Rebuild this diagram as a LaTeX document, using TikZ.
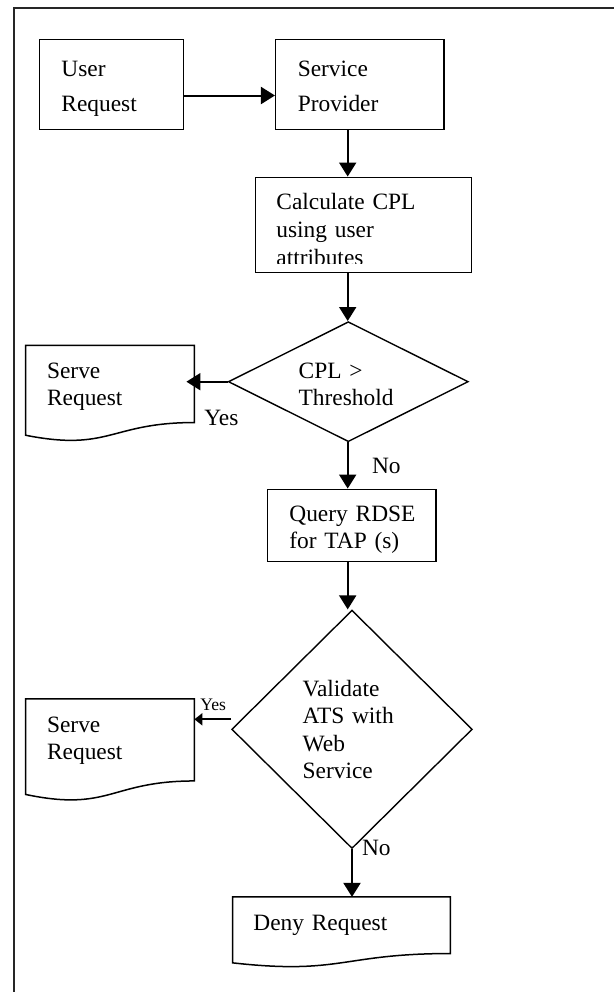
\documentclass[tikz,border=0pt]{standalone}
\usepackage{fontspec}
\setmainfont{Liberation Serif}
\usetikzlibrary{arrows.meta,shapes.geometric,calc}

% outline of a flowchart "document" symbol laid over a named rectangle node
\newcommand\docoutline[1]{%
  \draw[line width=0.75pt] (#1.north west) -- (#1.north east)
    -- ($(#1.north east)!0.802!(#1.south east)$)
    .. controls ($(#1.north)!0.802!(#1.south)$) and ($(#1.north)!1.107!(#1.south)$)
    .. ($(#1.north west)!0.934!(#1.south west)$) -- cycle;}

\begin{document}
\begin{tikzpicture}[x=0.5pt,y=-0.5pt,
  flowbox/.style={draw, rectangle, line width=0.75pt, inner sep=0pt},
  docarea/.style={rectangle, inner sep=0pt},
  decision/.style={draw, diamond, line width=0.7pt, inner sep=0pt},
  flowline/.style={line width=1pt, -{Triangle[length=7pt,width=8.5pt]}},
  txt/.style={anchor=base west, inner sep=0pt, align=left, text width=110pt,
    font=\fontsize{11.7pt}{13.6pt}\selectfont},
  widetxt/.style={txt, font=\fontsize{11.7pt}{17.3pt}\selectfont},
  calctxt/.style={txt, font=\fontsize{11.7pt}{14pt}\selectfont},
  smalltxt/.style={txt, font=\fontsize{8.8pt}{10pt}\selectfont}]
\useasboundingbox (0,0) rectangle (614,992);

% page frame
\draw[line width=0.9pt, draw=black!85] (14,992) |- (614,8);

% shapes
\node[flowbox, minimum width=72.2pt, minimum height=45pt] (user) at (111.5,84.3) {};
\node[flowbox, minimum width=84.15pt, minimum height=45pt] (provider) at (359.85,84.3) {};
\node[flowbox, minimum width=108pt, minimum height=47.7pt] (calc) at (363.7,225) {};
\node[decision, minimum width=120pt, minimum height=60pt] (thr) at (348.3,381.7) {};
\node[docarea, minimum width=84pt, minimum height=47.75pt] (serve1) at (110,393.45) {};
\docoutline{serve1}
\node[flowbox, minimum width=84.15pt, minimum height=36.2pt] (query) at (351.85,525.5) {};
\node[decision, minimum width=120.3pt, minimum height=119.2pt] (check) at (352,729.3) {};
\node[docarea, minimum width=84pt, minimum height=50.75pt] (serve2) at (110,750.05) {};
\docoutline{serve2}
\node[docarea, minimum width=108.5pt, minimum height=34.9pt] (deny) at (341.5,932.2) {};
\docoutline{deny}

% texts
\node[widetxt] (t-user) at (61,76.6) {User\\Request};
\node[widetxt] (t-provider) at (297.4,76.6) {Service\\Provider};
\coordinate (cut) at (0,263.3);
\begin{scope}
  % the last line runs past the lower edge of its box and is cut off there
  \clip (calc.north west) rectangle (calc.east |- cut);
  \node[calctxt] (t-calc) at (276,209.8) {Calculate CPL\\using user\\attributes};
\end{scope}
\node[txt] (t-thr) at (298.3,378.3) {CPL >\\Threshold};
\node[txt] (t-serve1) at (46.7,378.3) {Serve\\Request};
\node[txt] (yes1) at (204,425) {Yes};
\node[txt] (no1) at (371.7,473.3) {No};
\node[txt] (t-query) at (289,521.7) {Query RDSE\\for TAP (s)};
\node[txt] (t-check) at (302.3,696.7) {Validate\\ATS with\\Web\\Service};
\node[txt] (t-serve2) at (46.7,732.7) {Serve\\Request};
\node[smalltxt] (yes2) at (200,710.7) {Yes};
\node[txt] (no2) at (361.7,855) {No};
\node[txt] (t-deny) at (253,930.7) {Deny Request};

% connectors
\coordinate (upper) at (347.7,0);
\draw[flowline] ([yshift=-5.6pt]user.east) -- ([yshift=-5.6pt]provider.west);
\draw[flowline] (provider.south -| upper) -- (calc.north -| upper);
\draw[flowline] (calc.south -| upper) -- (thr.north -| upper);
\draw[flowline, shorten >=-4pt] (thr.west) -- (thr.west -| serve1.east);
\draw[flowline] (thr.south -| upper) -- (query.north -| upper);
\draw[flowline] (query.south -| upper) -- (check.north -| upper);
\draw[line width=1pt, -{Triangle[length=4pt,width=6pt]}]
  ([yshift=5pt]check.west) -- ([yshift=5pt]check.west -| serve2.east);
\draw[flowline] (check.south) -- (deny.north -| check.south);
\end{tikzpicture}
\end{document}
